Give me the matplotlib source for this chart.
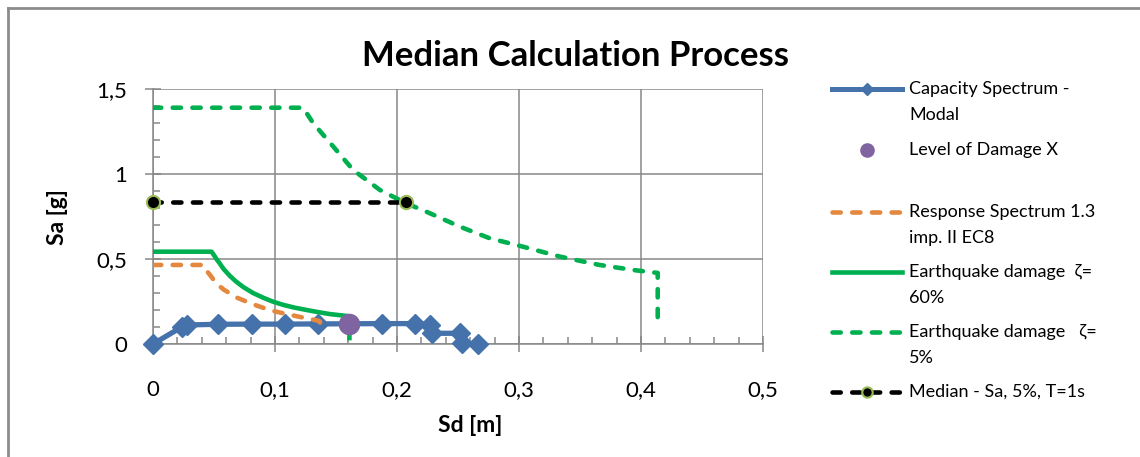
import matplotlib
matplotlib.use('Agg')
import matplotlib.pyplot as plt
from matplotlib.lines import Line2D
from matplotlib.ticker import FixedLocator, MultipleLocator

plt.rcParams['font.family'] = ['Lato', 'DejaVu Sans']

# ---------------- data ----------------
cap_sd = [0.0, 0.024, 0.028, 0.053, 0.081, 0.108, 0.135, 0.161, 0.188, 0.215, 0.227, 0.229, 0.252, 0.253, 0.266]
cap_sa = [0.0, 0.102, 0.112, 0.116, 0.117, 0.117, 0.118, 0.119, 0.120, 0.120, 0.112, 0.063, 0.063, 0.004, 0.0]

lod_sd = [0.161]
lod_sa = [0.120]

rs_sd = [0.0, 0.0412, 0.043, 0.0467, 0.050, 0.0535, 0.058, 0.063, 0.069, 0.0768, 0.085, 0.0932,
         0.101, 0.1096, 0.118, 0.126, 0.1355, 0.1369, 0.1369]
rs_sa = [0.465, 0.465, 0.440, 0.406, 0.375, 0.347, 0.320, 0.298, 0.272, 0.249, 0.226, 0.206,
         0.190, 0.176, 0.163, 0.151, 0.137, 0.131, 0.065]

eq60_sd = [0.0, 0.048, 0.050, 0.052, 0.0549, 0.058, 0.0631, 0.068, 0.074, 0.082, 0.0904, 0.098,
           0.1068, 0.116, 0.126, 0.135, 0.145, 0.1588, 0.161, 0.161]
eq60_sa = [0.543, 0.543, 0.522, 0.500, 0.472, 0.440, 0.400, 0.368, 0.335, 0.300, 0.272, 0.250,
           0.230, 0.214, 0.200, 0.188, 0.176, 0.165, 0.163, 0.035]

eq5_sd = [0.0, 0.123, 0.1314, 0.1478, 0.164, 0.186, 0.2066, 0.227, 0.2516, 0.276, 0.3035, 0.3336, 0.366, 0.394, 0.409, 0.4137, 0.4137]
eq5_sa = [1.39, 1.39, 1.298, 1.161, 1.024, 0.906, 0.831, 0.769, 0.690, 0.622, 0.572, 0.514, 0.465, 0.435, 0.422, 0.418, 0.10]

med_sd = [0.0, 0.207]
med_sa = [0.835, 0.835]

x_ticks = [0.0, 0.1, 0.2, 0.3, 0.4, 0.5]
x_tick_labels = ['0', '0,1', '0,2', '0,3', '0,4', '0,5']
y_ticks = [0.0, 0.5, 1.0, 1.5]
y_tick_labels = ['0', '0,5', '1', '1,5']

legend_labels = [
    ['Capacity Spectrum -', 'Modal'],
    ['Level of Damage X'],
    ['Response Spectrum 1.3', 'imp. II EC8'],
    ['Earthquake damage  \u03b6=', '60%'],
    ['Earthquake damage   \u03b6=', '5%'],
    ['Median - Sa, 5%, T=1s'],
]

# ---------------- style ----------------
BLUE = '#4672AC'
PURPLE = '#8064A2'
ORANGE = '#E3883E'
GREEN = '#00B050'
OLIVE = '#9BBB59'
GRID = '#878787'
DASH = (1.8, 2.5)

W, H = 1140, 457
fig = plt.figure(figsize=(W / 100, H / 100), dpi=100)


def fx(px):
    return px / W


def fy(py):
    return 1 - py / H


ax = fig.add_axes([fx(153), fy(344), fx(763) - fx(153), fy(89) - fy(344)])
ax.set_xlim(0, 0.5)
ax.set_ylim(0, 1.5)

ax.plot(cap_sd, cap_sa, color=BLUE, lw=3.8, marker='D', ms=10.5, mfc=BLUE, mec=BLUE,
        zorder=3, clip_on=False, solid_joinstyle='round')
ax.plot(lod_sd, lod_sa, ls='none', marker='o', ms=14.5, mfc=PURPLE, mec=PURPLE, zorder=7, clip_on=False)
ax.plot(rs_sd, rs_sa, color=ORANGE, lw=3.3, dashes=DASH, dash_capstyle='round', zorder=4)
ax.plot(eq60_sd, eq60_sa, color=GREEN, lw=3.3, zorder=5)
ax.plot(eq5_sd, eq5_sa, color=GREEN, lw=3.3, dashes=DASH, dash_capstyle='round', zorder=5)
ax.plot(med_sd, med_sa, color='black', lw=3.3, dashes=DASH, dash_capstyle='round',
        marker='o', ms=9.5, mfc='black', mec=OLIVE, mew=1.5, zorder=6, clip_on=False)

ax.xaxis.set_major_locator(FixedLocator(x_ticks))
ax.set_xticklabels(x_tick_labels)
ax.yaxis.set_major_locator(FixedLocator(y_ticks))
ax.set_yticklabels(y_tick_labels)
ax.xaxis.set_minor_locator(MultipleLocator(0.02))
ax.yaxis.set_minor_locator(MultipleLocator(0.1))

ax.grid(True, which='major', color=GRID, lw=1.1, zorder=0)
ax.set_axisbelow(True)
for s in ['top', 'right']:
    ax.spines[s].set_visible(False)
for s in ['left', 'bottom']:
    ax.spines[s].set_color(GRID)
    ax.spines[s].set_linewidth(1.1)

ax.tick_params(which='major', direction='inout', length=11.5, width=1.1, color=GRID,
               labelsize=16)
ax.tick_params(axis='x', which='major', pad=20)
ax.tick_params(axis='y', which='major', pad=13)
ax.tick_params(which='minor', direction='in', length=5, width=1.1, color=GRID)

ax.set_xlabel('Sd [m]', fontsize=16.5, fontweight='bold', va='center')
ax.xaxis.set_label_coords((470 - 153) / 610, (344 - 425) / 255)
ax.set_ylabel('Sa [g]', fontsize=16.5, fontweight='bold', va='center')
ax.yaxis.set_label_coords((58 - 153) / 610, (344 - 217) / 255)

fig.text(fx(576), fy(66), 'Median Calculation Process', ha='center', va='baseline',
         fontsize=25, fontweight='bold')

# chart border (top + left)
fig.add_artist(Line2D([fx(8), fx(8)], [fy(8), 0], color='#8C8C8C', lw=2))
fig.add_artist(Line2D([fx(8), 1], [fy(8), fy(8)], color='#8C8C8C', lw=2))

# ---------------- legend (drawn by hand) ----------------
hx0, hx1, hxm = fx(832), fx(902), fx(867)
rows = [89, 150, 212, 272, 332, 392]


def leg_line(y, **kw):
    fig.add_artist(Line2D([hx0, hx1], [fy(y), fy(y)], **kw))


leg_line(rows[0], color=BLUE, lw=3.6)
fig.add_artist(Line2D([hxm], [fy(rows[0])], ls='none', marker='D', ms=6.5, mfc=BLUE, mec=BLUE))
fig.add_artist(Line2D([hxm], [fy(rows[1])], ls='none', marker='o', ms=9.5, mfc=PURPLE, mec=PURPLE))
leg_line(rows[2], color=ORANGE, lw=3.3, dashes=DASH, dash_capstyle='round')
leg_line(rows[3], color=GREEN, lw=3.3)
leg_line(rows[4], color=GREEN, lw=3.3, dashes=DASH, dash_capstyle='round')
leg_line(rows[5], color='black', lw=3.3, dashes=DASH, dash_capstyle='round')
fig.add_artist(Line2D([hxm], [fy(rows[5])], ls='none', marker='o', ms=7.5, mfc='black', mec=OLIVE, mew=1.5))

for y, lines in zip(rows, legend_labels):
    for i, t in enumerate(lines):
        fig.text(fx(909), fy(y + 26 * i), t, ha='left', va='center', fontsize=13)

fig.savefig('out.png', dpi=100)
